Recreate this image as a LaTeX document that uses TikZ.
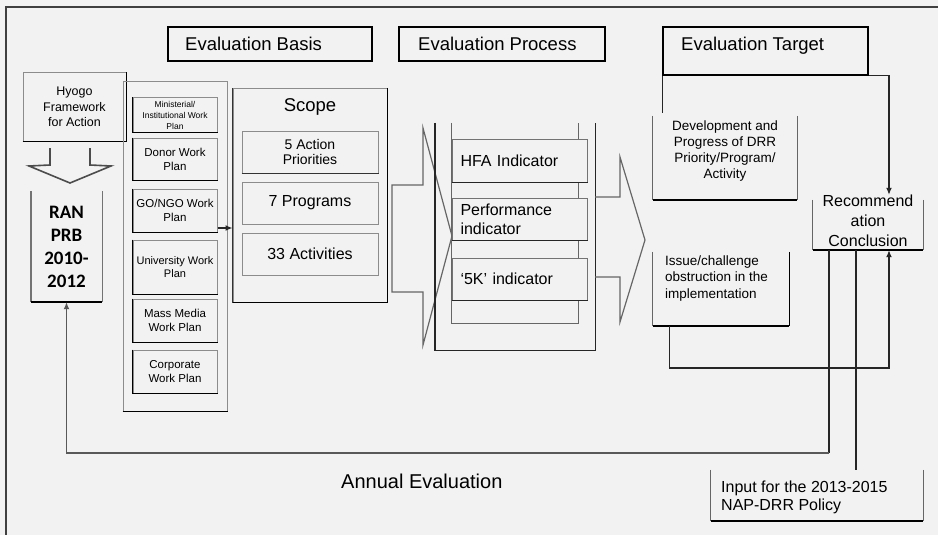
\documentclass[tikz,border=0pt]{standalone}
\usepackage{fontspec}
\setmainfont{Liberation Sans}
\newfontfamily\califont{Carlito}
\usetikzlibrary{arrows.meta}
\begin{document}
\begin{tikzpicture}[x=1pt,y=-1pt,
  box/.style={draw=black!45, line width=1pt, inner sep=0pt, align=center},
  tbox/.style={draw=black, line width=1.4pt, inner sep=0pt},
  ibox/.style={draw=black!55, line width=1pt, fill=black!5, inner sep=0pt, align=left, text width=118pt, font=\fontsize{16}{19}\selectfont},
  nobox/.style={inner sep=0pt},
  ttl/.style={inner sep=0pt, font=\fontsize{18.5}{22}\selectfont},
  txt/.style={inner sep=0pt, align=center},
  dk/.style={draw=black, line width=1.6pt},
  conn/.style={draw=black!85, line width=1.3pt},
  arr/.style={-{Latex[length=7pt,width=6pt]}}
]
\fill[black!5] (0,0) rectangle (938,535);
\useasboundingbox (0,0) rectangle (938,535);
\draw[black!75, line width=1.3pt] (6,535) -- (6,7) -- (938,7);

% title boxes
\node[tbox, minimum width=204pt, minimum height=34pt] (basis) at (270,44) {};
\node[ttl, anchor=west] (basisT) at (185,44) {Evaluation Basis};
\node[tbox, minimum width=206pt, minimum height=34pt] (process) at (502,44) {};
\node[ttl, anchor=west] (processT) at (418,44) {Evaluation Process};
\node[tbox, minimum width=205pt, minimum height=48pt] (target) at (765.5,51) {};
\node[ttl, anchor=west] (targetT) at (681,46) {Evaluation Target};

% Hyogo
\node[box, minimum width=103pt, minimum height=68pt, font=\fontsize{12.5}{15.5}\selectfont] (hyogo) at (74.5,107) {Hyogo\\Framework\\for Action};
\draw[dk] (hyogo.south west) -- (hyogo.south east) -- (hyogo.north east);
% down arrow
\draw[black!70, line width=1.6pt, line join=miter] (50,148) -- (50,165) -- (29,166) -- (70,183) -- (111,166) -- (90,165) -- (90,148);

% RAN PRB
\node[nobox, minimum width=71pt, minimum height=111pt, align=center, font=\califont\bfseries\fontsize{19}{23}\selectfont] (ran) at (66.5,246.5) {RAN\\PRB\\2010-\\2012};
\draw[black!55, line width=1.4pt] (ran.north west) -- (ran.south west);
\draw[black!55, line width=1.4pt] (ran.north east) -- (ran.south east);
\draw[dk] (ran.south west) -- (ran.south east);

% work plan column
\node[box, minimum width=104pt, minimum height=329pt] (wpcol) at (175,246.5) {};
\draw[dk] (wpcol.south west) -- (wpcol.south east);
\node[box, minimum width=84pt, minimum height=34pt, font=\fontsize{8.5}{11}\selectfont] (wpmin) at (175,115) {Ministerial/\\Institutional Work\\Plan};
\node[box, minimum width=84pt, minimum height=42pt, font=\fontsize{11.5}{14}\selectfont] (wpdonor) at (175,159) {Donor Work\\Plan};
\node[box, minimum width=84pt, minimum height=43pt, font=\fontsize{11.5}{14}\selectfont] (wpgo) at (175,210.5) {GO/NGO Work\\Plan};
\node[box, minimum width=84pt, minimum height=54pt, font=\fontsize{11}{13.5}\selectfont] (wpuni) at (175,267) {University Work\\Plan};
\node[box, minimum width=84pt, minimum height=43pt, font=\fontsize{11.5}{14}\selectfont] (wpmass) at (175,320.5) {Mass Media\\Work Plan};
\node[box, minimum width=84pt, minimum height=43pt, font=\fontsize{11.5}{14}\selectfont] (wpcorp) at (175,371.5) {Corporate\\Work Plan};
\foreach \n in {wpmin,wpdonor,wpgo,wpuni,wpmass,wpcorp}{
  \draw[black, line width=1.4pt] (\n.north west) -- (\n.south west) -- (\n.south east);
}

% scope
\node[box, minimum width=154pt, minimum height=213pt] (scope) at (310,195.5) {};
\draw[dk] (scope.south west) -- (scope.south east) -- (scope.north east);
\draw[black!80, line width=1.3pt] (scope.north west) -- (scope.south west);
\node[txt, font=\fontsize{18.5}{22}\selectfont] (scopeT) at (310,107) {Scope};
\node[box, minimum width=136pt, minimum height=42pt, font=\fontsize{14}{15.5}\selectfont] (sap) at (310,152) {5 Action\\Priorities};
\draw[black!80, line width=1.3pt] (sap.south west) -- (sap.south east);
\node[box, minimum width=136pt, minimum height=42pt, font=\fontsize{16}{19}\selectfont] (sprog) at (310,203) {7 Programs};
\node[box, minimum width=136pt, minimum height=42pt, font=\fontsize{16}{19}\selectfont] (sact) at (310,254) {33 Activities};

\coordinate (g1) at ([yshift=-17.5pt]wpgo.east);
\draw[conn, arr] (g1) -- (g1 -| scope.west);

% process
\draw[black!60, line width=1.2pt, line join=miter] (392,185) -- (423,185) -- (423,128) -- (452,236) -- (423,345) -- (423,292) -- (392,292) -- cycle;
\node[nobox, minimum width=160pt, minimum height=227pt] (procouter) at (515,236.5) {};
\draw[black!85, line width=1.4pt] (procouter.north west) -- (procouter.south west) -- (procouter.south east) -- (procouter.north east);
\node[nobox, minimum width=126pt, minimum height=200pt] (procinner) at (515,223) {};
\draw[black!60, line width=1.2pt] (procinner.north west) -- (procinner.south west) -- (procinner.south east) -- (procinner.north east);
\node[ibox, minimum width=135pt, minimum height=43pt] (hfa) at (519.5,160.5) {HFA Indicator};
\node[ibox, minimum width=135pt, minimum height=42pt] (perf) at (519.5,219) {Performance\\indicator};
\node[ibox, minimum width=135pt, minimum height=42pt] (fivek) at (519.5,279) {`5K' indicator};
\foreach \n in {hfa,perf,fivek}{
  \draw[black!85, line width=1.3pt] (\n.south west) -- (\n.south east);
}
\draw[black!60, line width=1.2pt, line join=miter] (595,197) -- (620,197) -- (620,157) -- (645,240) -- (620,322) -- (620,277) -- (595,277);

% targets
\node[nobox, minimum width=144pt, minimum height=84pt] (dev) at (725,158) {};
\draw[black!60, line width=1.3pt] (dev.north west) -- (dev.south west);
\draw[black!60, line width=1.3pt] (dev.north east) -- (dev.south east);
\draw[dk] (dev.south west) -- (dev.south east);
\node[txt, font=\fontsize{13.5}{16}\selectfont] (devT) at (725,151.5) {Development and\\Progress of DRR\\Priority/Program/\\Activity};

\node[nobox, minimum width=136pt, minimum height=74pt] (issue) at (721,289) {};
\draw[black!60, line width=1.3pt] (issue.north west) -- (issue.south west);
\draw[black, line width=1.4pt] (issue.north east) -- (issue.south east);
\draw[dk] (issue.south west) -- (issue.south east);
\node[txt, align=left, anchor=west, font=\fontsize{13.5}{16.5}\selectfont] (issueT) at (665,278.5) {Issue/challenge\\obstruction in the\\implementation};

\node[nobox, minimum width=110pt, minimum height=50pt] (rec) at (868,225) {};
\draw[black!60, line width=1.3pt] (rec.north west) -- (rec.south west);
\draw[black!60, line width=1.3pt] (rec.north east) -- (rec.south east);
\draw[dk] (rec.south west) -- (rec.south east);
\node[txt, font=\fontsize{16}{20}\selectfont] (recT) at (868,221) {Recommend\\ation\\Conclusion};

\node[nobox, minimum width=212pt, minimum height=51pt] (input) at (817,495.5) {};
\draw[black!60, line width=1.3pt] (input.north west) -- (input.south west);
\draw[black!60, line width=1.3pt] (input.north east) -- (input.south east);
\draw[dk] (input.south west) -- (input.south east);
\node[txt, align=left, anchor=west, font=\fontsize{16}{18}\selectfont] (inputT) at (721,497) {Input for the 2013-2015\\NAP-DRR Policy};

\node[txt, anchor=west, font=\fontsize{20}{24}\selectfont] (annual) at (341,481) {Annual Evaluation};

% connectors
\draw[conn, arr, shorten >=5pt] (target.south east) -| ([xshift=21pt]rec.north);
\draw[conn] (target.south west) -- ([yshift=3pt]target.south west |- dev.north);
\coordinate (loopc) at (889,368);
\draw[conn, arr] ([xshift=17pt]issue.south west) |- (loopc) -- ([xshift=21pt]rec.south);
\coordinate (annc) at (829,453);
\draw[conn] ([xshift=-39pt]rec.south) -- (annc);
\draw[black!65, line width=1.3pt, arr] (annc) -| (ran.south);
\draw[conn] ([xshift=-12pt]rec.south) -- ([xshift=-12pt]rec.south |- input.north);
\end{tikzpicture}
\end{document}
